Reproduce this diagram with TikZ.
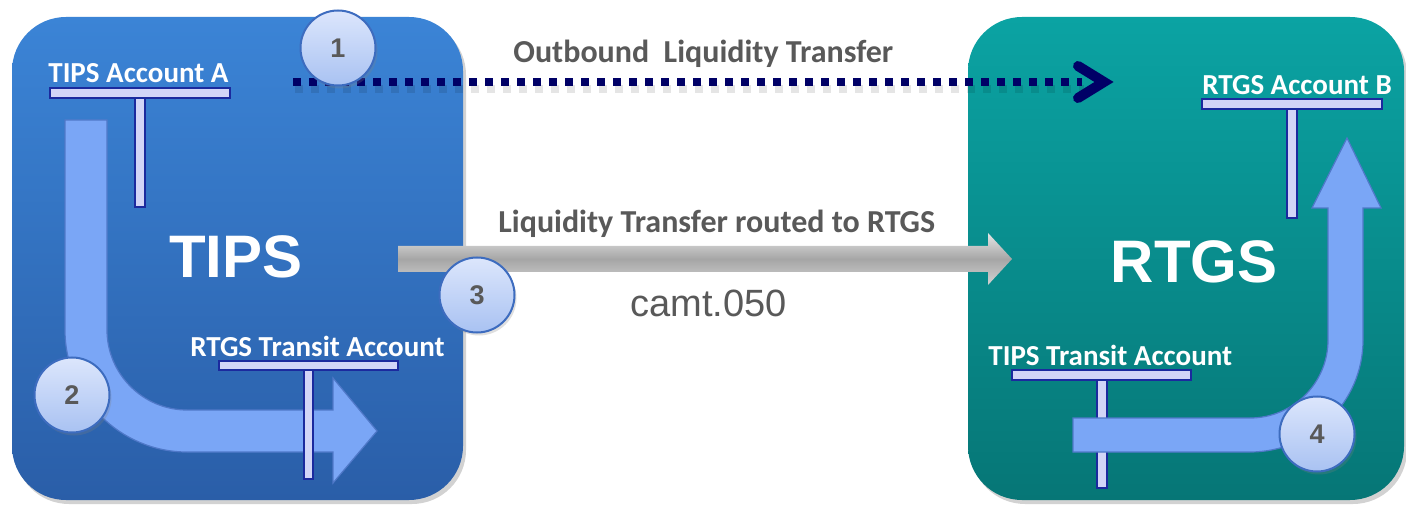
\documentclass[tikz,border=0pt]{standalone}
\usepackage{fontspec}
\setmainfont{Liberation Sans}
\newfontfamily\calib{Carlito}
\usetikzlibrary{shadows}

\definecolor{tipstop}{HTML}{3B84D6}
\definecolor{tipsbot}{HTML}{2A5EA8}
\definecolor{rtgstop}{HTML}{0BA3A3}
\definecolor{rtgsbot}{HTML}{067676}
\definecolor{bentfill}{HTML}{7AA6F6}
\definecolor{bentedge}{HTML}{4F78C8}
\definecolor{barfill}{HTML}{D2D5F7}
\definecolor{baredge}{HTML}{1B2A9E}
\definecolor{circtop}{HTML}{DCE6FC}
\definecolor{circbot}{HTML}{A9C2F2}
\definecolor{circedge}{HTML}{3D6CBF}
\definecolor{navy}{HTML}{000066}
\definecolor{txtgray}{HTML}{595959}

\tikzset{
  sysbox/.style={rectangle,rounded corners=27pt,inner sep=0pt,
    drop shadow={opacity=0.35,shadow xshift=1.5pt,shadow yshift=-2pt}},
  bigname/.style={anchor=base,inner sep=0pt,text=white,
    font=\bfseries\fontsize{30}{32}\selectfont},
  acct/.style={anchor=base west,inner sep=0pt,text=white,
    font=\calib\bfseries\fontsize{14.5}{16}\selectfont},
  flowtext/.style={anchor=base west,inner sep=0pt,text=txtgray,
    font=\calib\bfseries\fontsize{16}{18}\selectfont},
  bar/.style={draw=baredge,fill=barfill,line width=1pt},
  bent/.style={fill=bentfill,draw=bentedge,line width=0.6pt},
  numcirc/.style={circle,draw=circedge,line width=1pt,top color=circtop,
    bottom color=circbot,minimum size=37.5pt,inner sep=0pt,text=txtgray,
    font=\bfseries\fontsize{13.5}{14}\selectfont,
    drop shadow={opacity=0.25,shadow xshift=1pt,shadow yshift=-1.5pt}}
}

\begin{document}
\begin{tikzpicture}[x=0.5pt,y=-0.5pt]
   \useasboundingbox[fill=white] (0,0) rectangle (1406,507);

   \node [sysbox,top color=tipstop,bottom color=tipsbot,
          minimum width=225.5pt,minimum height=241.5pt] (tipsbox) at (237.5,258.5) {};
   \node [sysbox,top color=rtgstop,bottom color=rtgsbot,
          minimum width=218pt,minimum height=241.5pt] (rtgsbox) at (1186,258.5) {};

   \node [bigname] (tipsname) at (236,278) {TIPS};
   \node [bigname] (rtgsname) at (1194,283) {RTGS};

   % accounts in TIPS
   \node [acct] (tipsA) at (48,83) {TIPS Account A};
   \draw [bar] (50,88) rectangle (230,98);
   \draw [bar] (135,98) rectangle (145,207);
   \path [bent] (65,120) -- (65,330) .. controls (65,397) and (120,452) .. (187,452)
      -- (333,452) -- (333,483) -- (377,431) -- (333,378) -- (333,410) -- (187,410)
      .. controls (143,410) and (107,374) .. (107,330) -- (107,120) -- cycle;
   \node [acct] (rtgstransit) at (190,357) {RTGS Transit Account};
   \draw [bar] (219,361) rectangle (398,370);
   \draw [bar] (304,370) rectangle (313,479);

   % accounts in RTGS
   \node [acct] (rtgsB) at (1202,95) {RTGS Account B};
   \draw [bar] (1202,99) rectangle (1382,109);
   \draw [bar] (1287,109) rectangle (1297,218);
   \node [acct] (tipstransit) at (988,365) {TIPS Transit Account};
   \draw [bar] (1012,370) rectangle (1191,380);
   \draw [bar] (1097,380) rectangle (1107,488);
   \path [bent] (1073,418) -- (1250,418) .. controls (1293,418) and (1328,383) .. (1328,340)
      -- (1328,208) -- (1312,208) -- (1347,138) -- (1381,208) -- (1363,208) -- (1363,340)
      .. controls (1363,402) and (1312,452) .. (1250,452) -- (1073,452) -- cycle;

   % outbound transfer
   \coordinate (ltstart) at (293,82);
   \coordinate (ltend) at (1082,82);
   \draw [black,opacity=0.1,line width=4pt,dash pattern=on 4pt off 4pt]
      ([shift={(2,7)}]ltstart) -- ([shift={(2,7)}]ltend);
   \draw [navy,line width=4pt,dash pattern=on 4pt off 4pt] (ltstart) -- (ltend);
   \draw [navy,line width=5pt,line cap=round,line join=miter]
      ([shift={(-4,-16)}]ltend) -- ([shift={(22,0)}]ltend) -- ([shift={(-4,16)}]ltend);
   \node [flowtext] (outtext) at (513,63) {Outbound\ \ Liquidity Transfer};

   % routed transfer
   \shade [top color=gray!20,bottom color=gray!35,middle color=gray!70]
      (398,246) -- (988,246) -- (988,233) -- (1012,259) -- (988,285) -- (988,272)
      -- (398,272) -- cycle;
   \node [flowtext] (routedtext) at (498,233) {Liquidity Transfer routed to RTGS};
   \node [anchor=base west,inner sep=0pt,text=txtgray,font=\fontsize{19}{21}\selectfont]
      (camt) at (630,317) {camt.050};

   \node [numcirc] (step1) at (338,48) {1};
   \node [numcirc] (step2) at (72,395) {2};
   \node [numcirc] (step3) at (477,295) {3};
   \node [numcirc] (step4) at (1317,434) {4};
\end{tikzpicture}
\end{document}
